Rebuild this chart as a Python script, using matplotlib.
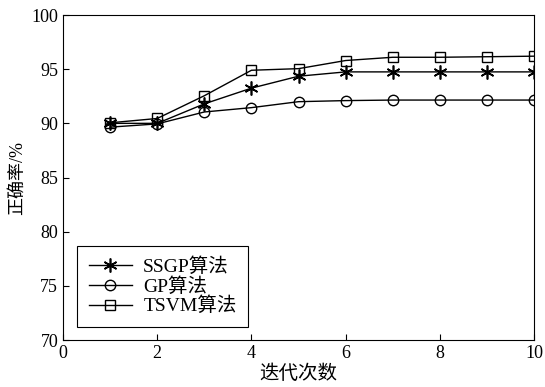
import matplotlib
matplotlib.use('Agg')
import matplotlib.pyplot as plt

plt.rcParams['font.family'] = ['Liberation Serif', 'Noto Sans CJK SC']

iterations = [1, 2, 3, 4, 5, 6, 7, 8, 9, 10]
ssgp = [90.0, 90.0, 91.8, 93.25, 94.35, 94.75, 94.75, 94.75, 94.75, 94.75]
gp = [89.65, 89.95, 91.05, 91.45, 92.0, 92.1, 92.15, 92.15, 92.15, 92.15]
tsvm = [90.05, 90.45, 92.55, 94.9, 95.05, 95.8, 96.1, 96.1, 96.15, 96.2]

fig = plt.figure(figsize=(5.45, 3.87), dpi=100)
ax = fig.add_axes([0.1156, 0.1214, 0.8644, 0.8398])

ax.plot(iterations, ssgp, 'k-', marker=(6, 2, 0), markersize=10, mew=1.2, lw=1, label='SSGP算法')
ax.plot(iterations, gp, 'k-', marker='o', markersize=7.5, mfc='none', lw=1, label='GP算法')
ax.plot(iterations, tsvm, 'k-', marker='s', markersize=7, mfc='none', lw=1, label='TSVM算法')

ax.set_xlim(0, 10)
ax.set_ylim(70, 100)
ax.set_xticks([0, 2, 4, 6, 8, 10])
ax.set_yticks([70, 75, 80, 85, 90, 95, 100])
ax.tick_params(direction='in', labelsize=13, length=4)
ax.set_xlabel('迭代次数', fontsize=14, labelpad=2)
ax.set_ylabel('正确率/%', fontsize=13, labelpad=4)

leg = ax.legend(loc='lower left', fontsize=14, fancybox=False, edgecolor='black',
                framealpha=1, handlelength=2.2, borderpad=0.6,
                labelspacing=0.05, borderaxespad=0, handletextpad=0.6,
                bbox_to_anchor=(0.03, 0.04))
leg.get_frame().set_linewidth(0.8)

fig.savefig('out.png', dpi=100)
